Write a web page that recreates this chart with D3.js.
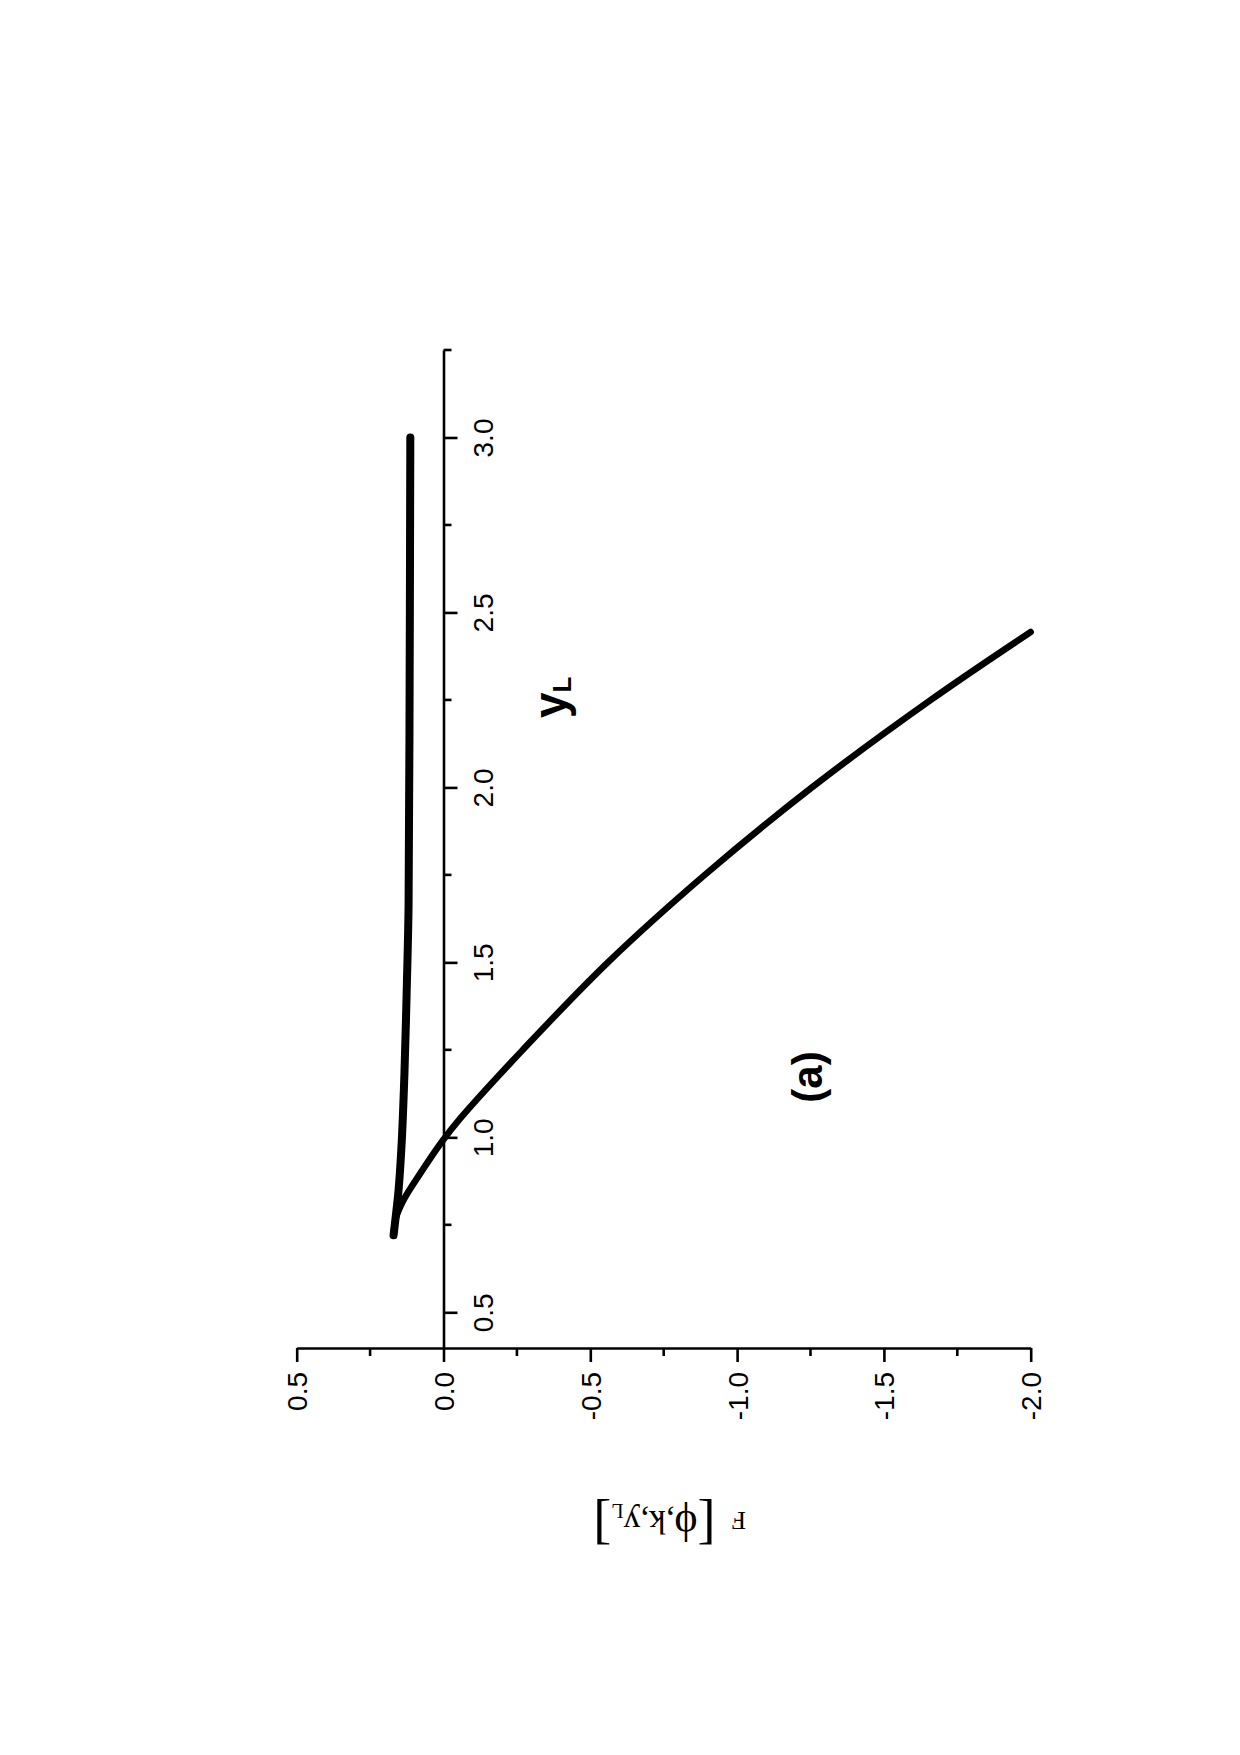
<!DOCTYPE html>
<html>
<head>
<meta charset="utf-8">
<script src="https://cdn.jsdelivr.net/npm/d3@7"></script>
<style>
  body { margin: 0; background: #fff; }
  svg { display: block; }
</style>
</head>
<body>
<div id="viz"></div>
<script>
const yLUpper = [0.72, 0.764, 0.85, 0.992, 1.184, 1.431, 1.659, 2.136, 3.0];
const fUpper  = [0.17, 0.164, 0.153, 0.142, 0.133, 0.125, 0.119, 0.116, 0.113];

const yLLower = [0.72, 0.764, 0.821, 0.897, 0.988, 1.054, 1.25, 1.5, 1.75, 2.0, 2.25, 2.444];
const fLower  = [0.17, 0.164, 0.136, 0.079, 0.005, -0.057, -0.27, -0.56, -0.89, -1.255, -1.66, -2.0];

// Tick values and labels
const fMajor = [0.5, 0.0, -0.5, -1.0, -1.5, -2.0];
const fMajorLabels = ["0.5", "0.0", "-0.5", "-1.0", "-1.5", "-2.0"];
const fMinor = [0.25, -0.25, -0.75, -1.25, -1.75];

const yLMajor = [0.5, 1.0, 1.5, 2.0, 2.5, 3.0];
const yLMajorLabels = ["0.5", "1.0", "1.5", "2.0", "2.5", "3.0"];
const yLMinor = [0.75, 1.25, 1.75, 2.25, 2.75, 3.25];

const width = 1240;
const height = 1755;

const svg = d3.select("#viz")
    .append("svg")
    .attr("width", width)
    .attr("height", height)
    .style("background", "#fff");

// The whole plot is turned on its side: F runs left->right, yL runs bottom->top
const xScale = d3.scaleLinear()
    .domain([0.5, -2.0])
    .range([296.7, 1030.7]);

const yScale = d3.scaleLinear()
    .domain([0.398, 3.25])
    .range([1348, 350]);

const axisY = 1348;
const axisX = xScale(0);

// F axis (horizontal, at bottom)
const fAxis = svg.append("g")
    .attr("transform", `translate(0,${axisY})`)
    .call(d3.axisBottom(xScale)
        .tickValues(fMajor)
        .tickSize(14)
        .tickSizeOuter(0)
        .tickPadding(0)
        .tickFormat((d, i) => fMajorLabels[i]));

fAxis.append("g")
    .selectAll("line")
    .data(fMinor)
    .enter().append("line")
    .attr("x1", d => xScale(d))
    .attr("x2", d => xScale(d))
    .attr("y1", 0)
    .attr("y2", 8);

fAxis.selectAll(".tick text")
    .attr("transform", "rotate(-90)")
    .attr("x", -24)
    .attr("y", 0)
    .attr("dy", "0.36em")
    .attr("text-anchor", "end");

// yL axis (vertical, sitting on F = 0)
const yAxis = svg.append("g")
    .attr("transform", `translate(${axisX},0)`)
    .call(d3.axisRight(yScale)
        .tickValues(yLMajor)
        .tickSize(14)
        .tickSizeOuter(0)
        .tickFormat((d, i) => yLMajorLabels[i]));

yAxis.append("g")
    .selectAll("line")
    .data(yLMinor)
    .enter().append("line")
    .attr("x1", 0)
    .attr("x2", 8)
    .attr("y1", d => yScale(d))
    .attr("y2", d => yScale(d));

yAxis.selectAll(".tick text")
    .attr("transform", "rotate(-90)")
    .attr("x", 0)
    .attr("y", 49)
    .attr("dy", 0)
    .attr("text-anchor", "middle");

svg.selectAll(".domain, .tick line, g line")
    .attr("stroke", "#000")
    .attr("stroke-width", 2.6);

svg.selectAll(".tick text")
    .attr("fill", "#000")
    .attr("font-family", "'Liberation Sans', Arial, sans-serif")
    .attr("font-size", 28);

// Curves
const line = d3.line()
    .x(d => xScale(d[1]))
    .y(d => yScale(d[0]))
    .curve(d3.curveCatmullRom);

svg.append("path")
    .datum(yLLower.map((v, i) => [v, fLower[i]]))
    .attr("d", line)
    .attr("fill", "none")
    .attr("stroke", "#000")
    .attr("stroke-width", 6.5)
    .attr("stroke-linecap", "round")
    .attr("stroke-linejoin", "round");

svg.append("path")
    .datum(yLUpper.map((v, i) => [v, fUpper[i]]))
    .attr("d", line)
    .attr("fill", "none")
    .attr("stroke", "#000")
    .attr("stroke-width", 8)
    .attr("stroke-linecap", "round")
    .attr("stroke-linejoin", "round");

// yL label (rotated, bold)
const yLabel = svg.append("text")
    .attr("transform", "translate(566,718) rotate(-90)")
    .attr("font-family", "'Liberation Sans', Arial, sans-serif")
    .attr("font-weight", "bold")
    .attr("font-size", 46)
    .attr("fill", "#000");
yLabel.append("tspan").text("y");
yLabel.append("tspan")
    .attr("font-size", 26)
    .attr("dy", 5)
    .text("L");

// Panel tag
svg.append("text")
    .attr("transform", "translate(811,1077) rotate(-90)")
    .attr("text-anchor", "middle")
    .attr("dy", "0.26em")
    .attr("font-family", "'Liberation Sans', Arial, sans-serif")
    .attr("font-weight", "bold")
    .attr("font-size", 42)
    .attr("fill", "#000")
    .text("(a)");

// F axis title (upside down)
const fLabel = svg.append("text")
    .attr("transform", "translate(746,1512) rotate(180)")
    .attr("font-family", "'Liberation Serif', 'Times New Roman', serif")
    .attr("fill", "#000");
fLabel.append("tspan").attr("font-size", 26).text("F");
fLabel.append("tspan").attr("font-size", 54).attr("dx", 16).attr("dy", 6).text("[");
fLabel.append("tspan").attr("font-size", 44).attr("dy", -5).text("\u03d5");
fLabel.append("tspan").attr("font-size", 34).text(",k,y");
fLabel.append("tspan").attr("font-size", 20).attr("dy", 7).text("L");
fLabel.append("tspan").attr("font-size", 54).attr("dy", -2).text("]");
</script>
</body>
</html>
